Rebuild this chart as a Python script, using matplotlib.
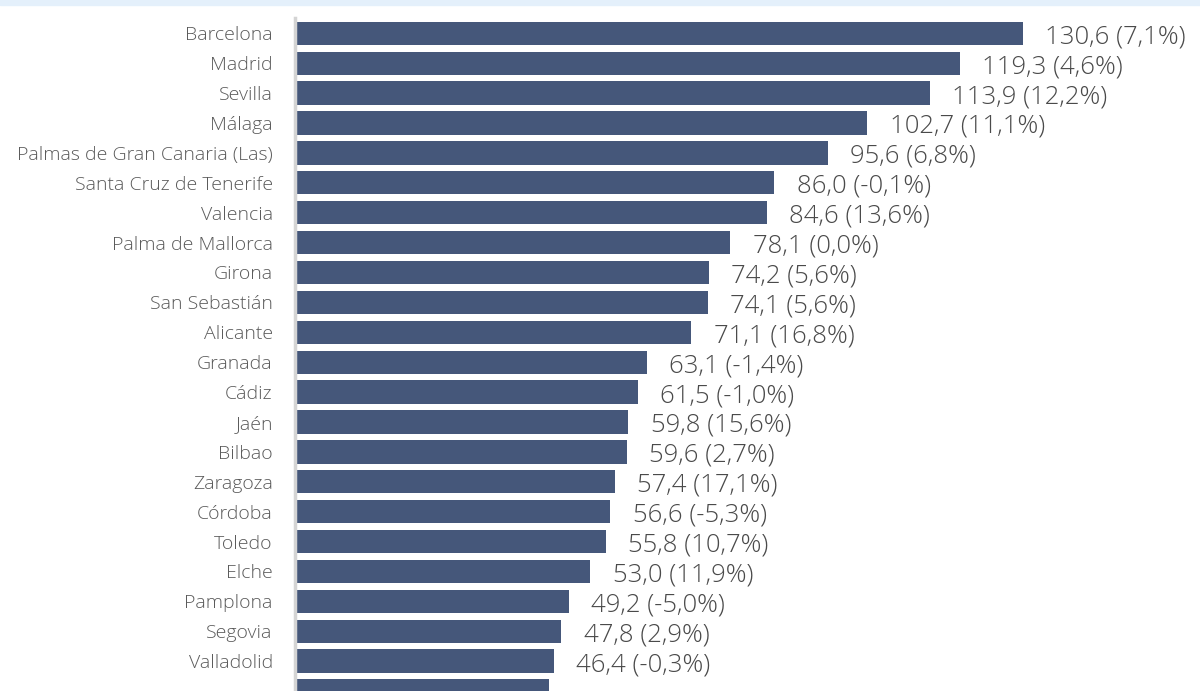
import numpy as np
import matplotlib.pyplot as plt
from matplotlib.patches import Rectangle

# datos
ciudades = ["Barcelona", "Madrid", "Sevilla", "Málaga", "Palmas de Gran Canaria (Las)",
            "Santa Cruz de Tenerife", "Valencia", "Palma de Mallorca", "Girona",
            "San Sebastián", "Alicante", "Granada", "Cádiz", "Jaén", "Bilbao",
            "Zaragoza", "Córdoba", "Toledo", "Elche", "Pamplona", "Segovia",
            "Valladolid", ""]
valores = [130.6, 119.3, 113.9, 102.7, 95.6, 86.0, 84.6, 78.1, 74.2, 74.1, 71.1,
           63.1, 61.5, 59.8, 59.6, 57.4, 56.6, 55.8, 53.0, 49.2, 47.8, 46.4, 45.5]
variacion = [7.1, 4.6, 12.2, 11.1, 6.8, -0.1, 13.6, 0.0, 5.6, 5.6, 16.8,
             -1.4, -1.0, 15.6, 2.7, 17.1, -5.3, 10.7, 11.9, -5.0, 2.9, -0.3, None]

color_barra = "#45577a"
fuente = "Open Sans"

fig = plt.figure(figsize=(12, 6.91), dpi=100)
fig.patches.append(Rectangle((0, 1 - 5/691), 1, 5/691, transform=fig.transFigure,
                             color="#e4f0fb", zorder=0))

ax = fig.add_axes([295/1200, 0, 905/1200, 1 - 18/691])
y = np.arange(len(ciudades))
ax.barh(y, valores, height=0.78, color=color_barra)

ax.set_xlim(0, 905/5.574)
ax.set_ylim(21.76, -0.513)

ax.set_yticks(y)
ax.set_yticklabels(ciudades, fontsize=14, color="#5a5a5a", family=fuente, weight="light")
ax.tick_params(axis="y", length=0, pad=16)
ax.set_xticks([])

for s in ["top", "right", "bottom"]:
    ax.spines[s].set_visible(False)
ax.spines["left"].set_color("#d4d4d4")
ax.spines["left"].set_linewidth(2.5)

for i, (v, p) in enumerate(zip(valores, variacion)):
    if p is None:
        continue
    txt = f"{v:.1f} ({p:.1f}%)".replace(".", ",")
    ax.annotate(txt, (v, i), xytext=(16, -2.5), textcoords="offset points",
                va="center", ha="left", fontsize=18.5, color="#4a4a4a",
                family=fuente, weight="light")

fig.savefig("out.png", dpi=100)
